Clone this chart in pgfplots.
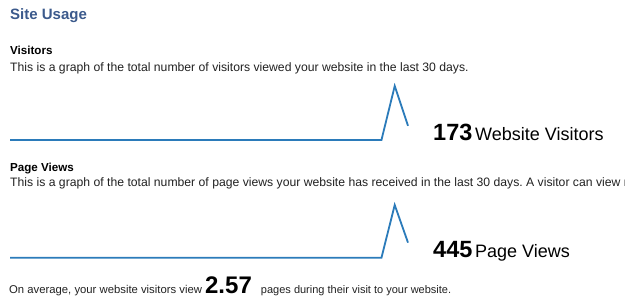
\documentclass[border=0pt]{standalone}
\usepackage{pgfplots}
\pgfplotsset{compat=1.18}
\usepackage{fontspec}
\setmainfont{Liberation Sans}
\definecolor{titleblue}{HTML}{3C5A8C}
\definecolor{lineblue}{HTML}{2B7BBA}
\definecolor{txt}{HTML}{222222}
\begin{document}
\frenchspacing
\begin{tikzpicture}[x=1pt,y=1pt]
\useasboundingbox (0,0) rectangle (625,308);
\clip (0,0) rectangle (625,308);
\fill[white] (0,0) rectangle (625,308);
% Titles and text
\node[anchor=base west,inner sep=0pt,text=titleblue] at (10,308-20) {\fontsize{15}{15}\selectfont\bfseries Site Usage};
\node[anchor=base west,inner sep=0pt,text=black] at (10,308-55) {\fontsize{11.6}{11.6}\selectfont\bfseries Visitors};
\node[anchor=base west,inner sep=0pt,text=txt] at (10,308-72) {\fontsize{12.2}{12.2}\selectfont This is a graph of the total number of visitors viewed your website in the last 30 days.};
\node[anchor=base west,inner sep=0pt,text=black] at (10,308-172) {\fontsize{11.6}{11.6}\selectfont\bfseries Page Views};
\node[anchor=base west,inner sep=0pt,text=txt] at (10,308-187) {\fontsize{12.2}{12.2}\selectfont This is a graph of the total number of page views your website has received in the last 30 days. A visitor can view more than one page during a visit.};
\node[anchor=base west,inner sep=0pt,text=black] at (433,308-141) {{\fontsize{23.5}{23.5}\selectfont\bfseries 173} {\fontsize{18}{18}\selectfont Website Visitors}};
\node[anchor=base west,inner sep=0pt,text=black] at (433,308-258) {{\fontsize{23.5}{23.5}\selectfont\bfseries 445} {\fontsize{18}{18}\selectfont Page Views}};
\node[anchor=base west,inner sep=0pt,text=txt] at (9,308-294) {\fontsize{11.3}{11.3}\selectfont On average, your website visitors view {\fontsize{24}{24}\selectfont\bfseries\color{black} 2.57}\hspace{6pt} {\fontsize{11}{11}\selectfont pages during their visit to your website.}};
% Visitors chart
\begin{axis}[at={(10pt,168pt)},anchor=origin,scale only axis,width=398pt,height=54pt,
  xmin=0,xmax=30,ymin=0,ymax=137,hide axis,clip=false,disabledatascaling]
\addplot[lineblue,line width=1.8pt,line join=miter] coordinates {
(0,0)(1,0)(2,0)(3,0)(4,0)(5,0)(6,0)(7,0)(8,0)(9,0)(10,0)(11,0)(12,0)(13,0)(14,0)
(15,0)(16,0)(17,0)(18,0)(19,0)(20,0)(21,0)(22,0)(23,0)(24,0)(25,0)(26,0)(27,0)(28,0)
(29,137)(30,36)};
\end{axis}
% Page views chart
\begin{axis}[at={(10pt,50.3pt)},anchor=origin,scale only axis,width=398pt,height=52.7pt,
  xmin=0,xmax=30,ymin=0,ymax=346,hide axis,clip=false,disabledatascaling]
\addplot[lineblue,line width=1.8pt,line join=miter] coordinates {
(0,0)(1,0)(2,0)(3,0)(4,0)(5,0)(6,0)(7,0)(8,0)(9,0)(10,0)(11,0)(12,0)(13,0)(14,0)
(15,0)(16,0)(17,0)(18,0)(19,0)(20,0)(21,0)(22,0)(23,0)(24,0)(25,0)(26,0)(27,0)(28,0)
(29,346)(30,99)};
\end{axis}
\end{tikzpicture}
\end{document}
